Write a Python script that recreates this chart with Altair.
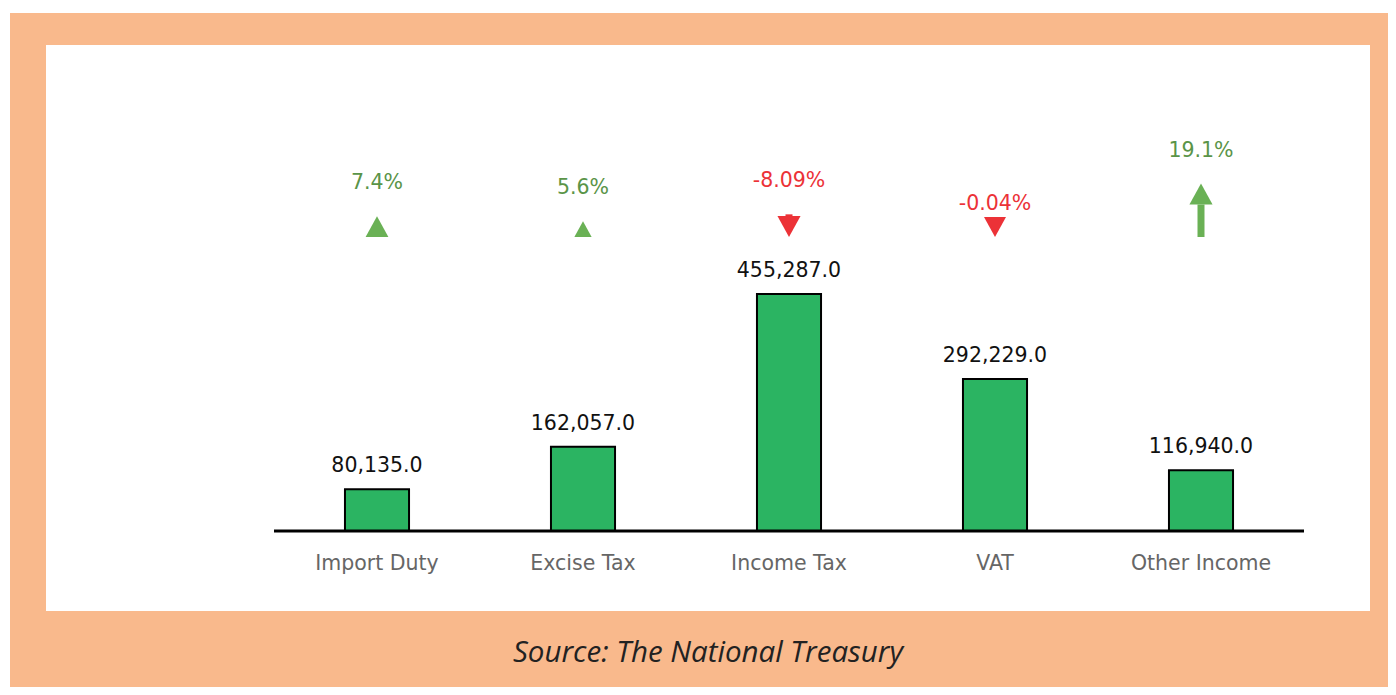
import altair as alt
import pandas as pd

categories = ["Import Duty", "Excise Tax", "Income Tax", "VAT", "Other Income"]
values = [80135.0, 162057.0, 455287.0, 292229.0, 116940.0]
changes = [7.4, 5.6, -8.09, -0.04, 19.1]
change_labels = ["7.4%", "5.6%", "-8.09%", "-0.04%", "19.1%"]
source_text = "Source: The National Treasury"

df = pd.DataFrame({
    "category": categories,
    "value": values,
    "pct": changes,
    "pct_label": change_labels,
})

ORANGE = "#F9B98C"
BAR_GREEN = "#2BB462"
ARROW_GREEN = "#6AB155"
TEXT_GREEN = "#5A9448"
RED = "#EC3237"
FONT = "DejaVu Sans"

xenc = alt.X("category:N", sort=categories, axis=None,
             scale=alt.Scale(range=[228, 1258], paddingInner=0.689, paddingOuter=0.3445))

base = alt.Chart(df)

# decorative frame
frame_data = pd.DataFrame({"a": [0]})
orange_rect = alt.Chart(frame_data).mark_rect(color=ORANGE).encode(
    x=alt.value(-36), x2=alt.value(1360), y=alt.value(-32), y2=alt.value(660))
white_rect = alt.Chart(frame_data).mark_rect(color="white").encode(
    x=alt.value(0), x2=alt.value(1324), y=alt.value(0), y2=alt.value(566))

yscale = alt.Scale(domain=[0, 933700], range=[486, 0], nice=False, zero=True)

bars = base.mark_bar(color=BAR_GREEN, stroke="black", strokeWidth=2).encode(
    x=xenc,
    y=alt.Y("value:Q", scale=yscale, axis=None),
)
value_text = base.mark_text(font=FONT, fontSize=20.5, color="#111111", baseline="alphabetic", dy=-17).encode(
    x=xenc,
    y=alt.Y("value:Q", scale=yscale, axis=None),
    text=alt.Text("value:Q", format=",.1f"),
)
cat_text = base.mark_text(font=FONT, fontSize=20.5, color="#666666", baseline="middle", dy=32.5).encode(
    x=xenc,
    y=alt.datum(0, scale=yscale),
    text="category:N",
)
baseline_rule = alt.Chart(frame_data).mark_rule(color="black", strokeWidth=3).encode(
    x=alt.value(228), x2=alt.value(1258), y=alt.value(486))

bar_layer = alt.layer(bars, value_text, cat_text, baseline_rule)

# arrows
ascale = alt.Scale(domain=[0, 68.571], range=[192, 0], nice=False, zero=True)
arrow_base = base.transform_calculate(
    absval="abs(datum.pct)",
    dir="datum.pct >= 0 ? 'up' : 'down'",
).transform_calculate(
    head="datum.absval < 1 ? 7.14 : min(datum.absval, 7.5)",
).transform_calculate(
    shaft_a="datum.dir == 'up' ? 0 : datum.head",
    shaft_b="datum.dir == 'up' ? max(datum.absval - datum.head, 0) : max(datum.absval, datum.head)",
    tip="datum.dir == 'up' ? datum.absval : 0",
)
arrow_color = alt.condition("datum.pct >= 0", alt.value(ARROW_GREEN), alt.value(RED))

shaft = arrow_base.mark_rule(strokeWidth=7, strokeCap="butt").encode(
    x=xenc,
    y=alt.Y("shaft_a:Q", scale=ascale, axis=None),
    y2="shaft_b:Q",
    color=arrow_color,
)
heads = arrow_base.mark_point(filled=True, opacity=1, strokeWidth=0).encode(
    x=xenc,
    y=alt.Y("tip:Q", scale=ascale, axis=None),
    shape=alt.Shape("dir:N", scale=alt.Scale(domain=["up", "down"],
                    range=["M0,0L0.55,1L-0.55,1Z", "M0,0L0.55,-1L-0.55,-1Z"]), legend=None),
    size=alt.Size("head:Q", scale=alt.Scale(type="pow", exponent=2, domain=[0, 7.14], range=[0, 1600]), legend=None),
    color=arrow_color,
)
pct_text = arrow_base.mark_text(font=FONT, fontSize=20.5, baseline="middle", dy=-33).encode(
    x=xenc,
    y=alt.Y("absval:Q", scale=ascale, axis=None),
    text="pct_label:N",
    color=alt.condition("datum.pct >= 0", alt.value(TEXT_GREEN), alt.value(RED)),
)
arrow_layer = alt.layer(shaft, heads, pct_text)

source = alt.Chart(pd.DataFrame({"t": [source_text]})).mark_text(
    font="Open Sans", fontStyle="italic", fontSize=29.5, color="#222222", baseline="middle", align="center"
).encode(x=alt.value(662), y=alt.value(608), text="t:N")

chart = alt.layer(orange_rect, white_rect, bar_layer, arrow_layer, source).resolve_scale(
    y="independent"
).properties(
    width=1324, height=566,
    padding={"left": 38, "top": 37, "right": 18, "bottom": 76},
    autosize=alt.AutoSizeParams(type="none"),
    background="white",
).configure_view(stroke=None, fill="white")

chart.save("out.html", embed_options={"renderer": "svg", "actions": False})
